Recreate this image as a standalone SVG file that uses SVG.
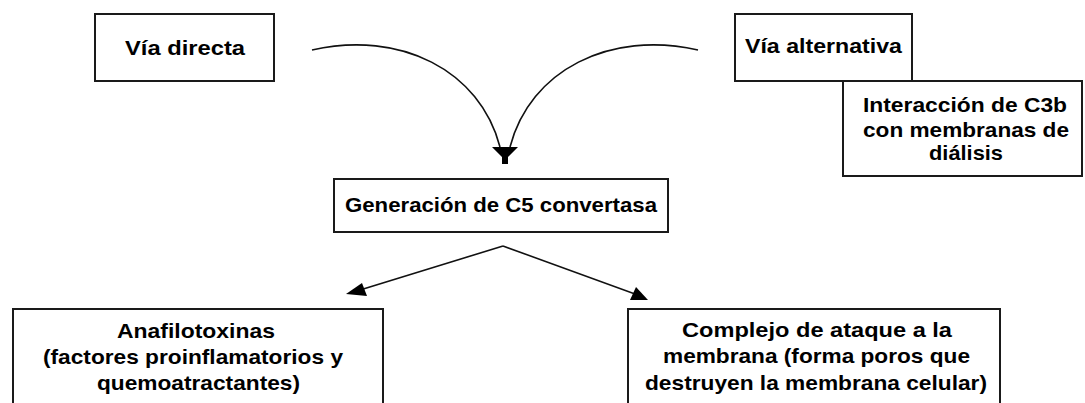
<svg xmlns="http://www.w3.org/2000/svg" width="1085" height="403" viewBox="0 0 1085 403">
<style>
.box{fill:#fff;stroke:#1a1a1a;stroke-width:2}
.t{font-family:"Liberation Sans",Arial,sans-serif;font-weight:bold;font-size:21px;fill:#000;text-anchor:start}
.c{fill:none;stroke:#111;stroke-width:1.6}
.ah{fill:#000;stroke:none}
</style>
<rect width="1085" height="403" fill="#fff"/>
<g id="connectors">
<path class="c" d="M312,50 C400,30 480,70 500,147"/>
<path class="c" d="M698,50 C610,30 530,70 510,147"/>
<polygon class="ah" points="492,147 518,147 508,157 508,164 502,164 502,157"/>
<path class="c" d="M503,246 L360,290"/>
<path class="c" d="M503,246 L635,294"/>
<polygon class="ah" points="346,294 362,283 367,296"/>
<polygon class="ah" points="648,300 630,300 636,287"/>
</g>
<g id="via-directa">
<rect class="box" x="95" y="14" width="179" height="67"/>
<text class="t" x="125" y="55" textLength="120" lengthAdjust="spacingAndGlyphs">Vía directa</text>
</g>
<g id="via-alternativa">
<rect class="box" x="735" y="14" width="177" height="67"/>
<text class="t" x="745" y="53" textLength="157" lengthAdjust="spacingAndGlyphs">Vía alternativa</text>
</g>
<g id="interaccion">
<rect class="box" x="843" y="81" width="239" height="95"/>
<text class="t" x="863" y="112" textLength="204" lengthAdjust="spacingAndGlyphs">Interacción de C3b</text>
<text class="t" x="863" y="137" textLength="206" lengthAdjust="spacingAndGlyphs">con membranas de</text>
<text class="t" x="929" y="160" textLength="74" lengthAdjust="spacingAndGlyphs">diálisis</text>
</g>
<g id="generacion">
<rect class="box" x="334" y="179" width="334" height="53"/>
<text class="t" x="345" y="212" textLength="312" lengthAdjust="spacingAndGlyphs">Generación de C5 convertasa</text>
</g>
<g id="anafilotoxinas">
<rect class="box" x="13" y="309" width="370" height="110"/>
<text class="t" x="117" y="338" textLength="158" lengthAdjust="spacingAndGlyphs">Anafilotoxinas</text>
<text class="t" x="43" y="364" textLength="300" lengthAdjust="spacingAndGlyphs">(factores proinflamatorios y</text>
<text class="t" x="97" y="390" textLength="203" lengthAdjust="spacingAndGlyphs">quemoatractantes)</text>
</g>
<g id="complejo">
<rect class="box" x="628" y="309" width="372" height="110"/>
<text class="t" x="682" y="337" textLength="270" lengthAdjust="spacingAndGlyphs">Complejo de ataque a la</text>
<text class="t" x="663" y="363" textLength="307" lengthAdjust="spacingAndGlyphs">membrana (forma poros que</text>
<text class="t" x="645" y="390" textLength="342" lengthAdjust="spacingAndGlyphs">destruyen la membrana celular)</text>
</g>
</svg>
